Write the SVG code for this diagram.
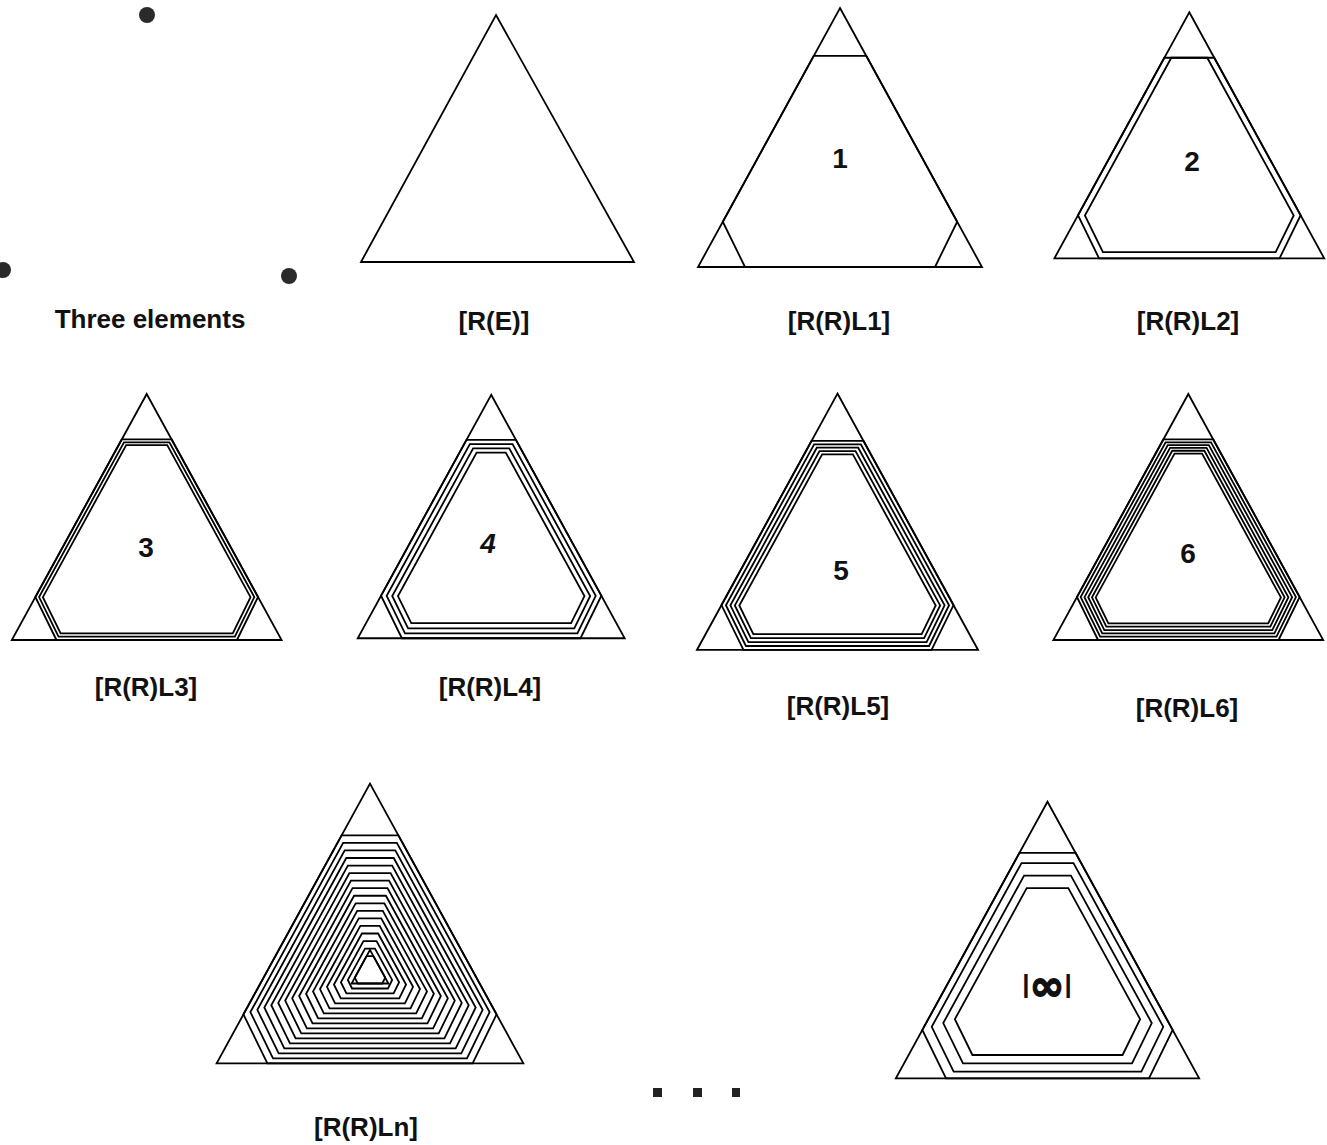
<svg xmlns="http://www.w3.org/2000/svg" width="1327" height="1145" viewBox="0 0 1327 1145">
<style>
.ln{fill:none;stroke:#000;stroke-width:1.8;stroke-linejoin:miter;vector-effect:non-scaling-stroke}
.lbl{font-family:"Liberation Sans",Arial,sans-serif;font-weight:bold;font-size:26px;text-anchor:middle;fill:#111}
.num{font-family:"Liberation Sans",Arial,sans-serif;font-weight:bold;font-size:28px;text-anchor:middle;fill:#111}
.dot{fill:#2a2a2a}
</style>
<defs>
<path id="tri" vector-effect="non-scaling-stroke" d="M0,-175 L142,84 L-142,84 Z"/>
<path id="hex" vector-effect="non-scaling-stroke" d="M-26.3,-127.1 L26.3,-127.1 L117.2,38.7 L95,84 L-95,84 L-117.2,38.7 Z"/>
<path id="hL2" vector-effect="non-scaling-stroke" d="M-18.9,-127.1 L18.9,-127.1 L109.9,38.9 L90.9,77.5 L-90.9,77.5 L-109.9,38.9 Z"/>
<path id="o35" vector-effect="non-scaling-stroke" d="M-23.9,-124.1 L23.9,-124.1 L113.3,38.8 L92.8,80.5 L-92.8,80.5 L-113.3,38.8 Z"/>
<path id="o7" vector-effect="non-scaling-stroke" d="M-21.6,-121.2 L21.6,-121.2 L109.3,38.9 L90.6,77 L-90.6,77 L-109.3,38.9 Z"/>
<path id="o105" vector-effect="non-scaling-stroke" d="M-19.2,-118.2 L19.2,-118.2 L105.4,39 L88.4,73.5 L-88.4,73.5 L-105.4,39 Z"/>
<path id="o14" vector-effect="non-scaling-stroke" d="M-16.9,-115.2 L16.9,-115.2 L101.4,39.1 L86.3,70 L-86.3,70 L-101.4,39.1 Z"/>
<path id="o175" vector-effect="non-scaling-stroke" d="M-14.5,-112.2 L14.5,-112.2 L97.5,39.2 L84.1,66.5 L-84.1,66.5 L-97.5,39.2 Z"/>
<path id="o4" vector-effect="non-scaling-stroke" d="M-23.6,-123.7 L23.6,-123.7 L112.7,38.8 L92.5,80 L-92.5,80 L-112.7,38.8 Z"/>
<path id="o8" vector-effect="non-scaling-stroke" d="M-20.9,-120.3 L20.9,-120.3 L108.2,38.9 L90,76 L-90,76 L-108.2,38.9 Z"/>
<path id="o12" vector-effect="non-scaling-stroke" d="M-18.2,-116.9 L18.2,-116.9 L103.7,39 L87.5,72 L-87.5,72 L-103.7,39 Z"/>
<path id="o16" vector-effect="non-scaling-stroke" d="M-15.5,-113.5 L15.5,-113.5 L99.2,39.1 L85,68 L-85,68 L-99.2,39.1 Z"/>
<path id="o53" vector-effect="non-scaling-stroke" d="M-22.7,-122.6 L22.7,-122.6 L111.2,38.8 L91.7,78.7 L-91.7,78.7 L-111.2,38.8 Z"/>
<path id="o106" vector-effect="non-scaling-stroke" d="M-19.2,-118.1 L19.2,-118.1 L105.3,39 L88.4,73.4 L-88.4,73.4 L-105.3,39 Z"/>
</defs>
<rect width="1327" height="1145" fill="#fff"/>

<g id="three-elements">
<circle class="dot" cx="147" cy="15" r="8"/>
<circle class="dot" cx="3" cy="270" r="8"/>
<circle class="dot" cx="289" cy="276" r="8"/>
<text class="lbl" x="150" y="328">Three elements</text>
</g>

<g id="RE">
<polygon class="ln" points="496,15 634,262 361,262"/>
<text class="lbl" x="494" y="330">[R(E)]</text>
</g>

<g id="L1">
<g transform="translate(840,183)">
<use href="#tri" class="ln"/><use href="#hex" class="ln"/>
</g>
<text class="num" x="840" y="168">1</text>
<text class="lbl" x="839" y="330">[R(R)L1]</text>
</g>

<g id="L2">
<g transform="translate(1189.3,178.5) scale(0.95)">
<use href="#tri" class="ln"/><use href="#hex" class="ln"/><use href="#hL2" class="ln"/>
</g>
<text class="num" x="1192" y="171">2</text>
<text class="lbl" x="1188" y="330">[R(R)L2]</text>
</g>

<g id="L3">
<g transform="translate(146.7,560.2) scale(0.95)">
<use href="#tri" class="ln"/><use href="#hex" class="ln"/><use href="#o35" class="ln"/><use href="#o7" class="ln"/>
</g>
<text class="num" x="146" y="557">3</text>
<text class="lbl" x="146" y="696">[R(R)L3]</text>
</g>

<g id="L4">
<g transform="translate(491.2,559.3) scale(0.94)">
<use href="#tri" class="ln"/><use href="#hex" class="ln"/><use href="#o53" class="ln"/><use href="#o106" class="ln"/><use href="#o16" class="ln"/>
</g>
<text class="num" x="488" y="553" font-style="italic">4</text>
<text class="lbl" x="490" y="696">[R(R)L4]</text>
</g>

<g id="L5">
<g transform="translate(837.5,566.8) scale(0.99)">
<use href="#tri" class="ln"/><use href="#hex" class="ln"/><use href="#o4" class="ln"/><use href="#o8" class="ln"/><use href="#o12" class="ln"/><use href="#o16" class="ln"/>
</g>
<text class="num" x="841" y="580" font-family="Liberation Serif, serif">5</text>
<text class="lbl" x="838" y="715">[R(R)L5]</text>
</g>

<g id="L6">
<g transform="translate(1188.3,560.2) scale(0.95)">
<use href="#tri" class="ln"/><use href="#hex" class="ln"/><use href="#o35" class="ln"/><use href="#o7" class="ln"/><use href="#o105" class="ln"/><use href="#o14" class="ln"/><use href="#o175" class="ln"/>
</g>
<text class="num" x="1188" y="563">6</text>
<text class="lbl" x="1187" y="717">[R(R)L6]</text>
</g>

<g id="Ln">
<g transform="translate(370,972.6) scale(1.08)">
<use href="#tri" class="ln"/>
<use href="#hex" class="ln"/>
<use href="#hex" class="ln" transform="scale(0.945)"/>
<use href="#hex" class="ln" transform="scale(0.89)"/>
<use href="#hex" class="ln" transform="scale(0.835)"/>
<use href="#hex" class="ln" transform="scale(0.78)"/>
<use href="#hex" class="ln" transform="scale(0.725)"/>
<use href="#hex" class="ln" transform="scale(0.67)"/>
<use href="#hex" class="ln" transform="scale(0.615)"/>
<use href="#hex" class="ln" transform="scale(0.56)"/>
<use href="#hex" class="ln" transform="scale(0.505)"/>
<use href="#hex" class="ln" transform="scale(0.45)"/>
<use href="#hex" class="ln" transform="scale(0.395)"/>
<use href="#hex" class="ln" transform="scale(0.34)"/>
<use href="#hex" class="ln" transform="scale(0.285)"/>
<use href="#hex" class="ln" transform="scale(0.23)"/>
<use href="#hex" class="ln" transform="scale(0.175)"/>
<use href="#hex" class="ln" transform="scale(0.12)"/>
<use href="#tri" class="ln" transform="scale(0.12)"/>
</g>
<text class="lbl" x="366" y="1136">[R(R)Ln]</text>
</g>

<g id="Linf">
<g transform="translate(1047.5,988.6) scale(1.068)">
<use href="#tri" class="ln"/>
<use href="#hex" class="ln"/>
<use href="#hex" class="ln" transform="scale(0.925)"/>
<use href="#hex" class="ln" transform="scale(0.833)"/>
<use href="#hex" class="ln" transform="scale(0.74)"/>
</g>
<text class="lbl" x="1047" y="993" font-size="24">|<tspan font-family="DejaVu Sans, sans-serif" font-size="42" dy="7" stroke="#111" stroke-width="1.5">∞</tspan><tspan dy="-7">|</tspan></text>
</g>

<g id="ellipsis" fill="#222">
<rect x="653" y="1088" width="9" height="9"/>
<rect x="693" y="1088" width="9" height="9"/>
<rect x="732" y="1088" width="8" height="9"/>
</g>
</svg>
